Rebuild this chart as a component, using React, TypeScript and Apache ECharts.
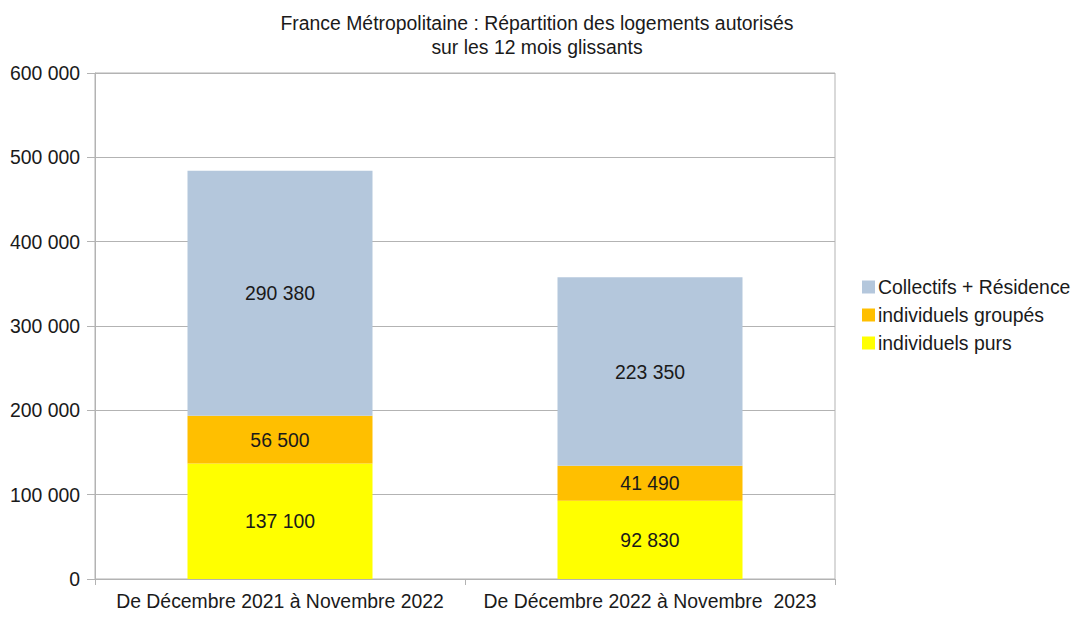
import React, { useEffect, useRef } from "react";
import * as echarts from "echarts";

const titleLines = [
  "France Métropolitaine : Répartition des logements autorisés",
  "sur les 12 mois glissants",
];
const categories = [
  "De Décembre 2021 à Novembre 2022",
  "De Décembre 2022 à Novembre  2023",
];
const individuelsPurs = [137100, 92830];
const individuelsGroupes = [56500, 41490];
const collectifs = [290380, 223350];
const seriesNames = ["individuels purs", "individuels groupés", "Collectifs + Résidence"];
const legendOrder = ["Collectifs + Résidence", "individuels groupés", "individuels purs"];
const colors = ["#ffff00", "#ffbf00", "#b4c7dc"];

const FONT = "'Liberation Sans', Arial, sans-serif";
const FS = 19.4;
const fmt = (v: number) => String(v).replace(/\B(?=(\d{3})+(?!\d))/g, " ");

export default function App() {
  const ref = useRef<HTMLDivElement>(null);
  useEffect(() => {
    if (!ref.current) return;
    const chart = echarts.init(ref.current, undefined, { renderer: "svg" });
    const data = [individuelsPurs, individuelsGroupes, collectifs];
    chart.setOption({
      animation: false,
      backgroundColor: "#ffffff",
      textStyle: { fontFamily: FONT },
      title: {
        text: titleLines.join("\n"),
        left: "center",
        top: 6,
        textStyle: {
          fontFamily: FONT,
          fontSize: FS,
          fontWeight: "normal",
          color: "#1a1a1a",
          lineHeight: 24,
        },
      },
      legend: {
        orient: "vertical",
        left: 857,
        top: 272,
        itemWidth: 13,
        itemHeight: 13,
        itemGap: 8,
        icon: "rect",
        data: legendOrder,
        textStyle: { fontFamily: FONT, fontSize: FS, color: "#1a1a1a", lineHeight: 20, padding: [0, 0, 0, -2] },
      },
      grid: {
        left: 95,
        right: 239,
        top: 73,
        bottom: 38,
        show: true,
        borderColor: "#b3b3b3",
        borderWidth: 1,
        containLabel: false,
      },
      xAxis: {
        type: "category",
        data: categories,
        axisLine: { lineStyle: { color: "#b3b3b3" } },
        axisTick: { show: true, length: 6, interval: 0, lineStyle: { color: "#b3b3b3" } },
        axisLabel: { fontFamily: FONT, fontSize: FS, color: "#1a1a1a", margin: 12, interval: 0 },
      },
      yAxis: {
        type: "value",
        min: 0,
        max: 600000,
        interval: 100000,
        axisLine: { show: true, lineStyle: { color: "#b3b3b3" } },
        axisTick: { show: true, length: 8, lineStyle: { color: "#b3b3b3" } },
        splitLine: { lineStyle: { color: "#b3b3b3" } },
        axisLabel: {
          fontFamily: FONT,
          fontSize: FS,
          color: "#1a1a1a",
          margin: 15,
          formatter: (v: number) => fmt(v),
        },
      },
      series: seriesNames.map((name, i) => ({
        name,
        type: "bar",
        stack: "total",
        barWidth: "50%",
        itemStyle: { color: colors[i] },
        label: {
          show: true,
          position: "inside",
          fontFamily: FONT,
          fontSize: FS,
          color: "#1a1a1a",
          formatter: (p: any) => fmt(p.value),
        },
        data: data[i],
      })),
    });
    return () => chart.dispose();
  }, []);
  return (
    <div
      ref={ref}
      style={{ position: "fixed", left: 0, top: 0, width: 1074, height: 617 }}
    />
  );
}
